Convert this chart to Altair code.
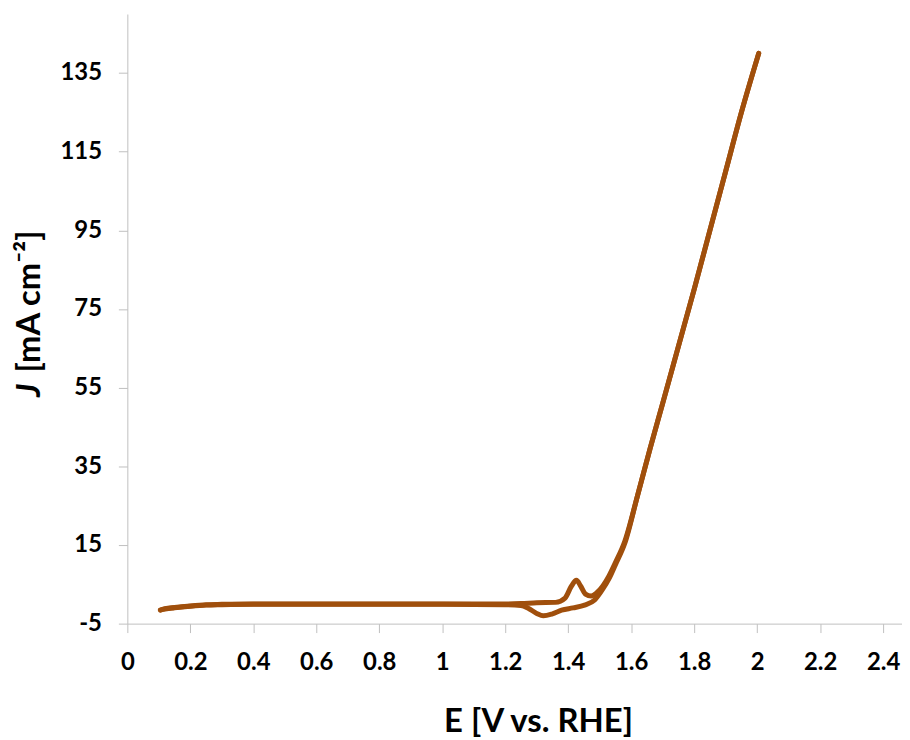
import altair as alt
import pandas as pd

# Forward (anodic) scan
E_fwd = [0.105, 0.12, 0.15, 0.20, 0.25, 0.30, 0.40, 0.60, 0.80, 1.00, 1.20, 1.25, 1.30, 1.36,
         1.39, 1.41, 1.426, 1.44, 1.455, 1.473, 1.49, 1.51, 1.53, 1.55, 1.58, 1.62, 1.66,
         1.70, 1.75, 1.80, 1.85, 1.90, 1.95, 2.005]
J_fwd = [-1.6, -1.2, -0.9, -0.5, -0.2, -0.1, 0.0, 0.0, 0.0, 0.0, 0.0, 0.1, 0.3, 0.4,
         1.5, 4.5, 6.0, 4.5, 2.5, 2.0, 2.8, 4.6, 7.2, 10.5, 16, 27.5, 39.5,
         51, 65.5, 80, 95, 110, 125, 140]

# Backward (cathodic) scan
E_bwd = [2.005, 1.95, 1.90, 1.85, 1.80, 1.75, 1.70, 1.66, 1.62, 1.58, 1.55, 1.53, 1.51, 1.484,
         1.452, 1.415, 1.379, 1.35, 1.321, 1.30, 1.273, 1.25, 1.20, 1.00, 0.80, 0.60,
         0.40, 0.30, 0.25, 0.20, 0.15, 0.12, 0.105]
J_bwd = [140, 125, 110, 95, 80, 65.5, 51, 39.5, 27.5, 15.5, 10.0, 6.5, 3.8, 1.0,
         -0.3, -1.0, -1.6, -2.5, -3.0, -2.4, -1.1, -0.4, -0.2, -0.1, -0.1, -0.1,
         -0.1, -0.2, -0.3, -0.6, -1.0, -1.3, -1.5]

x_ticks = [0, 0.2, 0.4, 0.6, 0.8, 1, 1.2, 1.4, 1.6, 1.8, 2, 2.2, 2.4]
y_ticks = [-5, 15, 35, 55, 75, 95, 115, 135]

x_title = "E [V vs. RHE]"
y_title_symbol = ["J"]
y_title_unit = "[mA cm⁻²]"

df = pd.DataFrame({
    "E": E_fwd + E_bwd,
    "J": J_fwd + J_bwd,
    "scan": ["forward"] * len(E_fwd) + ["backward"] * len(E_bwd),
})

axis_common = dict(
    grid=False,
    domainColor="#bfbfbf",
    tickColor="#bfbfbf",
    domainWidth=1,
    tickWidth=1,
    tickSize=9,
    labelFont="Lato",
    labelFontWeight="bold",
    labelFontSize=24,
    labelColor="black",
    titleFont="Lato",
    titleFontWeight="bold",
    titleFontSize=33,
    titleColor="black",
    labelExpr="'' + datum.value",
)

line = alt.Chart(df).mark_line(
    color="#A04F0C", strokeWidth=5, interpolate="monotone", strokeCap="round"
).encode(
    x=alt.X("E:Q", scale=alt.Scale(domain=[0, 2.46], nice=False, zero=False),
            axis=alt.Axis(values=x_ticks, title=x_title, labelPadding=18,
                          titlePadding=31, titleX=413, labelFlush=False, **axis_common)),
    y=alt.Y("J:Q", scale=alt.Scale(domain=[-5, 150], nice=False, zero=False),
            axis=alt.Axis(values=y_ticks, title=y_title_unit, labelPadding=17,
                          titleX=-98, titleY=360, titleAlign="left",
                          titleBaseline="middle", titleAngle=270,
                          labelFlush=False, **axis_common)),
    detail="scan:N",
)

j_text = alt.Chart(pd.DataFrame({"t": y_title_symbol})).mark_text(
    angle=270, align="left", baseline="middle", font="Lato",
    fontStyle="italic", fontWeight="bold", fontSize=33, color="black",
).encode(
    text="t:N",
    x=alt.value(-98),
    y=alt.value(385),
)

chart = alt.layer(line, j_text).properties(
    width=779, height=613,
    padding={"left": 6, "top": 4, "right": 0, "bottom": 4},
).configure_view(stroke=None)

chart.save("out.html", embed_options={"renderer": "svg", "actions": False})
